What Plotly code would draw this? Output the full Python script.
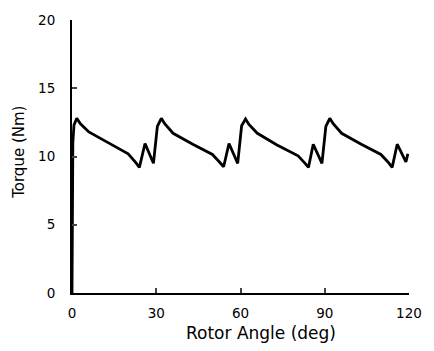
import plotly.graph_objects as go

angle_deg = [0, 0.3, 0.7, 1.7, 3, 6, 13, 20, 22.5, 24, 26, 29, 30.4, 31.8,
             33, 36, 43, 50, 52.5, 54, 55.9, 59, 60.4, 61.8,
             63, 66, 73, 80.5, 83, 84.2, 85.9, 89, 90.4, 91.8,
             93, 96, 103, 110, 112.5, 114, 115.8, 118.9, 119.6]
torque_nm = [0, 11.0, 12.3, 12.8, 12.4, 11.8, 11.0, 10.2, 9.6, 9.2, 10.95, 9.5, 12.2, 12.8,
             12.4, 11.7, 10.9, 10.15, 9.6, 9.25, 10.95, 9.5, 12.25, 12.75,
             12.35, 11.7, 10.85, 10.05, 9.5, 9.2, 10.9, 9.5, 12.2, 12.8,
             12.4, 11.7, 10.9, 10.15, 9.6, 9.2, 10.9, 9.6, 10.2]

x_ticks = [0, 30, 60, 90, 120]
y_ticks = [0, 5, 10, 15, 20]

tick_font = dict(family="DejaVu Sans, sans-serif", size=13.5, color="black")
title_font = dict(family="DejaVu Sans, sans-serif", size=17, color="black")
ytitle_font = dict(family="DejaVu Sans, sans-serif", size=15, color="black")

fig = go.Figure()
fig.add_trace(go.Scatter(x=angle_deg, y=torque_nm, mode="lines",
                         line=dict(color="black", width=2.8), showlegend=False))

fig.update_layout(
    width=434, height=351,
    margin=dict(l=72, r=22, t=14, b=58),
    paper_bgcolor="white", plot_bgcolor="white",
    font=tick_font,
    xaxis=dict(range=[0, 120], tickvals=x_ticks, ticks="inside", ticklen=5, tickwidth=2,
               showline=True, linecolor="black", linewidth=2, showgrid=False, zeroline=False,
               tickfont=tick_font, ticklabelstandoff=7),
    yaxis=dict(range=[0, 20], tickvals=y_ticks, ticks="inside", ticklen=5, tickwidth=2,
               showline=True, linecolor="black", linewidth=2, showgrid=False, zeroline=False,
               tickfont=tick_font, ticklabelstandoff=12),
    annotations=[
        dict(text="Rotor Angle (deg)", xref="paper", yref="paper", x=0.56, y=-0.145,
             xanchor="center", yanchor="middle", showarrow=False, font=title_font),
        dict(text="Torque (Nm)", xref="paper", yref="paper", x=-0.156, y=0.515,
             xanchor="center", yanchor="middle", showarrow=False, textangle=-90, font=ytitle_font),
    ],
)

fig.write_html("out.html")
